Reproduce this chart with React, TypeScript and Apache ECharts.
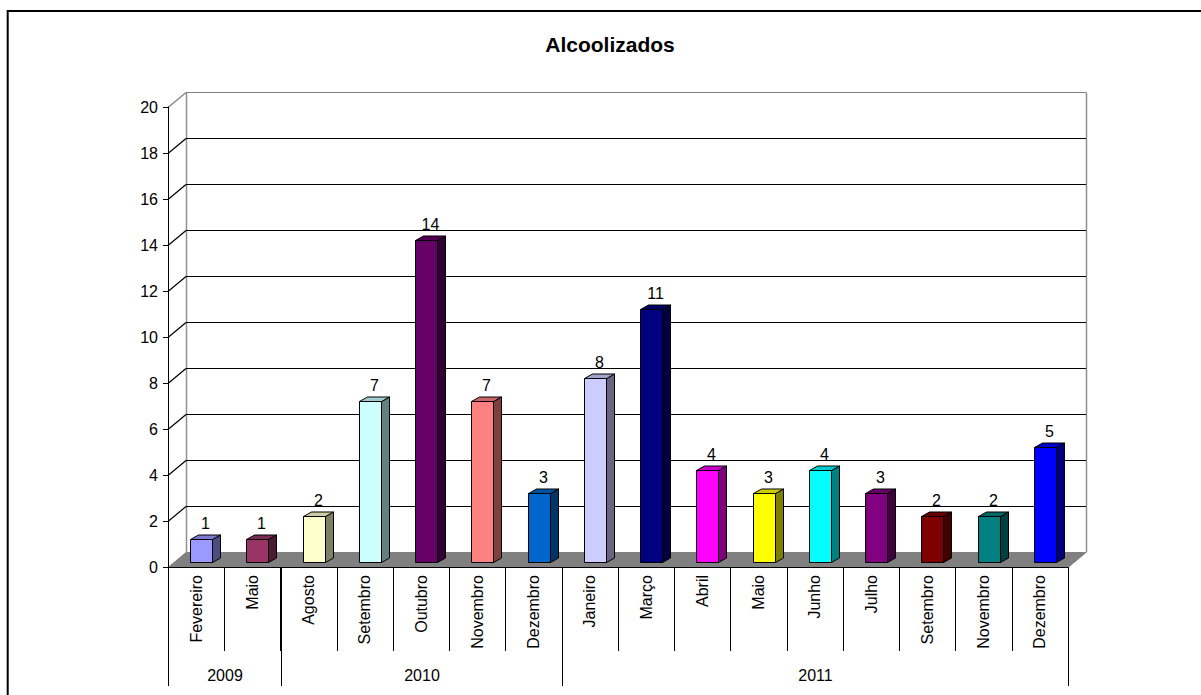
import React, { useEffect, useRef } from "react";
import * as echarts from "echarts";

const months = [
  "Fevereiro", "Maio", "Agosto", "Setembro", "Outubro", "Novembro", "Dezembro",
  "Janeiro", "Março", "Abril", "Maio", "Junho", "Julho", "Setembro", "Novembro", "Dezembro",
];
const values = [1, 1, 2, 7, 14, 7, 3, 8, 11, 4, 3, 4, 3, 2, 2, 5];
const barColors = [
  "#9999FF", "#993366", "#FFFFCC", "#CCFFFF", "#660066", "#FF8080", "#0066CC",
  "#CCCCFF", "#000080", "#FF00FF", "#FFFF00", "#00FFFF", "#800080", "#800000", "#008080", "#0000FF",
];
const years = ["2009", "2010", "2011"];
const yearStarts = [0, 2, 7];
const yearEnds = [2, 7, 16];
const yTicks = [0, 2, 4, 6, 8, 10, 12, 14, 16, 18, 20];
const title = "Alcoolizados";

const FONT = "'Liberation Sans', Arial, sans-serif";
const DX = 18;
const DY = 15;

function shade(hex: string, f: number): string {
  const n = parseInt(hex.slice(1), 16);
  const r = Math.round(((n >> 16) & 255) * f);
  const g = Math.round(((n >> 8) & 255) * f);
  const b = Math.round((n & 255) * f);
  return `rgb(${r},${g},${b})`;
}

export default function App() {
  const ref = useRef<HTMLDivElement>(null);
  useEffect(() => {
    if (!ref.current) return;
    const chart = echarts.init(ref.current, null, { renderer: "svg" });
    const yMax = yTicks[yTicks.length - 1];
    const option: any = {
      animation: false,
      backgroundColor: "#fff",
      grid: { left: 168, right: 133, top: 107, bottom: 128, containLabel: false },
      graphic: [
        {
          type: "rect",
          shape: { x: 7.7, y: 11, width: 1400, height: 900 },
          style: { fill: "none", stroke: "#000", lineWidth: 2 },
          silent: true,
        },
        {
          type: "text",
          x: 610,
          y: 44,
          style: {
            text: title,
            font: `bold 21px ${FONT}`,
            fill: "#000",
            align: "center",
            verticalAlign: "middle",
          },
        },
      ],
      xAxis: {
        type: "category",
        data: months,
        z: 10,
        boundaryGap: true,
        axisLine: { show: true, lineStyle: { color: "#000", width: 1 } },
        axisTick: { show: true, interval: 0, length: 84, lineStyle: { color: "#000" } },
        axisLabel: {
          interval: 0,
          rotate: 90,
          margin: 8,
          fontSize: 16,
          fontFamily: FONT,
          color: "#000",
        },
        splitLine: { show: false },
      },
      yAxis: {
        type: "value",
        min: 0,
        max: yMax,
        interval: 2,
        z: 10,
        axisLine: { show: true, lineStyle: { color: "#000", width: 1 } },
        axisTick: { show: true, length: 5, lineStyle: { color: "#000" } },
        axisLabel: { fontSize: 16, fontFamily: FONT, color: "#000", margin: 10 },
        splitLine: { show: false },
      },
      series: [
        {
          type: "custom",
          name: "walls",
          z: 1,
          silent: true,
          data: yTicks.map((t) => [0, t]),
          encode: { x: 0, y: 1 },
          renderItem: (params: any, api: any) => {
            const cs = params.coordSys;
            const v = api.value(1);
            const y = Math.round(api.coord([0, v])[1]) + 0.5;
            const x0 = cs.x;
            const x1 = cs.x + cs.width;
            const children: any[] = [];
            if (v === 0) {
              const yTop = Math.round(api.coord([0, yMax])[1]) + 0.5;
              children.push({
                type: "polygon",
                shape: { points: [[x0, y], [x0 + DX, y - DY], [x1 + DX, y - DY], [x1, y]] },
                style: { fill: "#808080", stroke: "#808080", lineWidth: 1 },
              });
              children.push({
                type: "line",
                shape: { x1: x0 + DX + 0.5, y1: yTop - DY, x2: x0 + DX + 0.5, y2: y - DY },
                style: { stroke: "#909090", lineWidth: 1.5 },
              });
              children.push({
                type: "line",
                shape: { x1: x1 + DX + 0.5, y1: yTop - DY, x2: x1 + DX + 0.5, y2: y - DY },
                style: { stroke: "#909090", lineWidth: 1.5 },
              });
            } else {
              const c = v === yMax ? "#808080" : "#000";
              children.push({
                type: "line",
                shape: { x1: x0 + DX, y1: y - DY, x2: x1 + DX, y2: y - DY },
                style: { stroke: c, lineWidth: 1.2 },
              });
              children.push({
                type: "line",
                shape: { x1: x0, y1: y, x2: x0 + DX, y2: y - DY },
                style: { stroke: c, lineWidth: 1.2 },
              });
            }
            return { type: "group", children };
          },
        },
        {
          type: "custom",
          name: "bars",
          z: 3,
          silent: true,
          data: values.map((v, i) => [i, v]),
          encode: { x: 0, y: 1 },
          renderItem: (params: any, api: any) => {
            const i = api.value(0);
            const v = api.value(1);
            const top = api.coord([i, v]);
            const base = api.coord([i, 0]);
            const cx = top[0];
            const L = Math.round(cx - 6) + 0.5;
            const R = L + 22;
            const yb = Math.round(base[1] - 4.7) + 0.5;
            const yt = Math.round(top[1] - 4.7) + 0.5;
            const col = barColors[i];
            const dx = 8;
            const dy = 4.5;
            return {
              type: "group",
              children: [
                {
                  type: "polygon",
                  shape: { points: [[R, yt], [R + dx, yt - dy], [R + dx, yb - dy], [R, yb]] },
                  style: { fill: shade(col, 0.5), stroke: "#000", lineWidth: 1 },
                },
                {
                  type: "polygon",
                  shape: { points: [[L, yt], [L + dx, yt - dy], [R + dx, yt - dy], [R, yt]] },
                  style: { fill: shade(col, 0.8), stroke: "#000", lineWidth: 1 },
                },
                {
                  type: "rect",
                  shape: { x: L, y: yt, width: R - L, height: yb - yt },
                  style: { fill: col, stroke: "#000", lineWidth: 1 },
                },
                {
                  type: "text",
                  x: (L + R) / 2 + 4,
                  y: yt - 16,
                  style: {
                    text: String(v),
                    font: `16px ${FONT}`,
                    fill: "#000",
                    align: "center",
                    verticalAlign: "middle",
                  },
                },
              ],
            };
          },
        },
        {
          type: "custom",
          name: "years",
          z: 3,
          silent: true,
          data: years.map((y, k) => [yearStarts[k], 0, yearEnds[k]]),
          encode: { x: 0, y: 1 },
          renderItem: (params: any, api: any) => {
            const s = api.value(0);
            const e = api.value(2);
            const bw = api.size([1, 0])[0];
            const a = api.coord([s, 0]);
            const b = api.coord([e - 1, 0]);
            const xl = Math.round(a[0] - bw / 2) + 0.5;
            const xr = Math.round(b[0] + bw / 2) + 0.5;
            const y0 = Math.round(a[1]);
            const children: any[] = [
              {
                type: "line",
                shape: { x1: xl, y1: y0, x2: xl, y2: y0 + 119 },
                style: { stroke: "#000", lineWidth: 1 },
              },
              {
                type: "text",
                x: (xl + xr) / 2,
                y: y0 + 108,
                style: {
                  text: years[params.dataIndex],
                  font: `16px ${FONT}`,
                  fill: "#000",
                  align: "center",
                  verticalAlign: "middle",
                },
              },
            ];
            if (params.dataIndex === years.length - 1) {
              children.push({
                type: "line",
                shape: { x1: xr, y1: y0, x2: xr, y2: y0 + 119 },
                style: { stroke: "#000", lineWidth: 1 },
              });
            }
            return { type: "group", children };
          },
        },
      ],
    };
    chart.setOption(option);
    return () => chart.dispose();
  }, []);
  return (
    <div
      ref={ref}
      style={{ position: "absolute", left: 0, top: 0, width: 1201, height: 695 }}
    />
  );
}
